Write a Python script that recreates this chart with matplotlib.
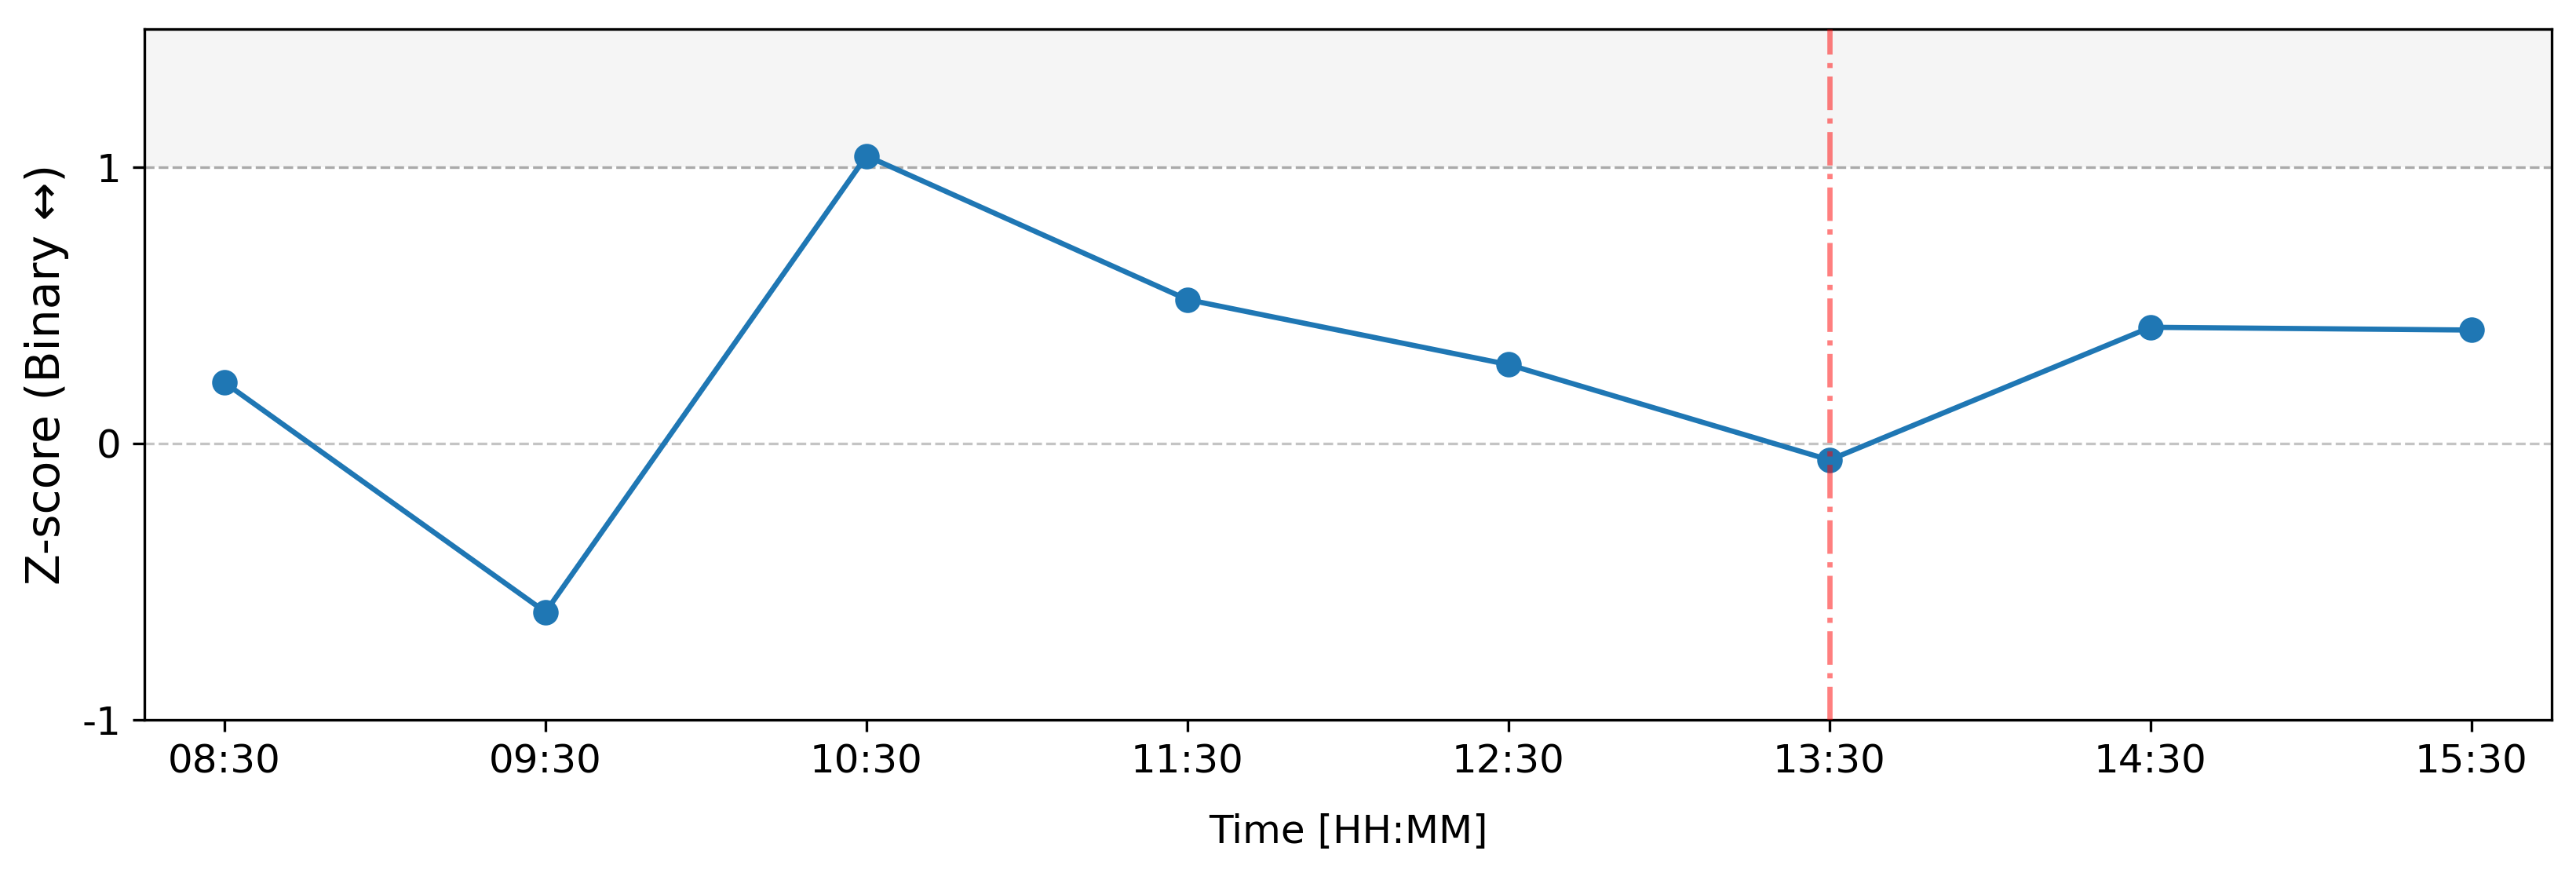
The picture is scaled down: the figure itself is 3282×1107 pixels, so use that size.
import numpy as np
import matplotlib
matplotlib.use("Agg")
import matplotlib.pyplot as plt

# Datos
horas = ["08:30", "09:30", "10:30", "11:30", "12:30", "13:30", "14:30", "15:30"]
zscore = [0.22, -0.61, 1.04, 0.52, 0.285, -0.06, 0.42, 0.41]
hora_evento = "13:30"
umbral = 1.0

x = np.arange(len(horas))

fig, ax = plt.subplots(figsize=(10.94, 3.69), dpi=300)
fig.subplots_adjust(left=0.056, right=0.9906, top=0.967, bottom=0.1716)

# Zona sombreada por encima del umbral
ax.axhspan(umbral, 1.5, color="#f5f5f5", zorder=0, lw=0)
ax.axhline(umbral, color="#aaaaaa", linestyle="--", linewidth=0.8, zorder=1)
ax.axhline(0, color="#c4c4c4", linestyle="--", linewidth=0.8, zorder=1)

ax.plot(x, zscore, color="#1f77b4", marker="o", markersize=6.8, linewidth=1.6, zorder=2)

ax.axvline(horas.index(hora_evento), color="red", alpha=0.5, linestyle="-.",
           linewidth=1.6, zorder=3)

ax.set_xticks(x)
ax.set_xticklabels(horas, fontsize=12)
ax.set_yticks([-1, 0, 1])
ax.set_yticklabels(["-1", "0", "1"], fontsize=12)
ax.set_xlim(-0.25, 7.25)
ax.set_ylim(-1, 1.5)

ax.set_xlabel("Time [HH:MM]", fontsize=12, labelpad=10)
ax.set_ylabel("Z-score (Binary ↔)", fontsize=14)

plt.savefig("out.png", dpi=300)
